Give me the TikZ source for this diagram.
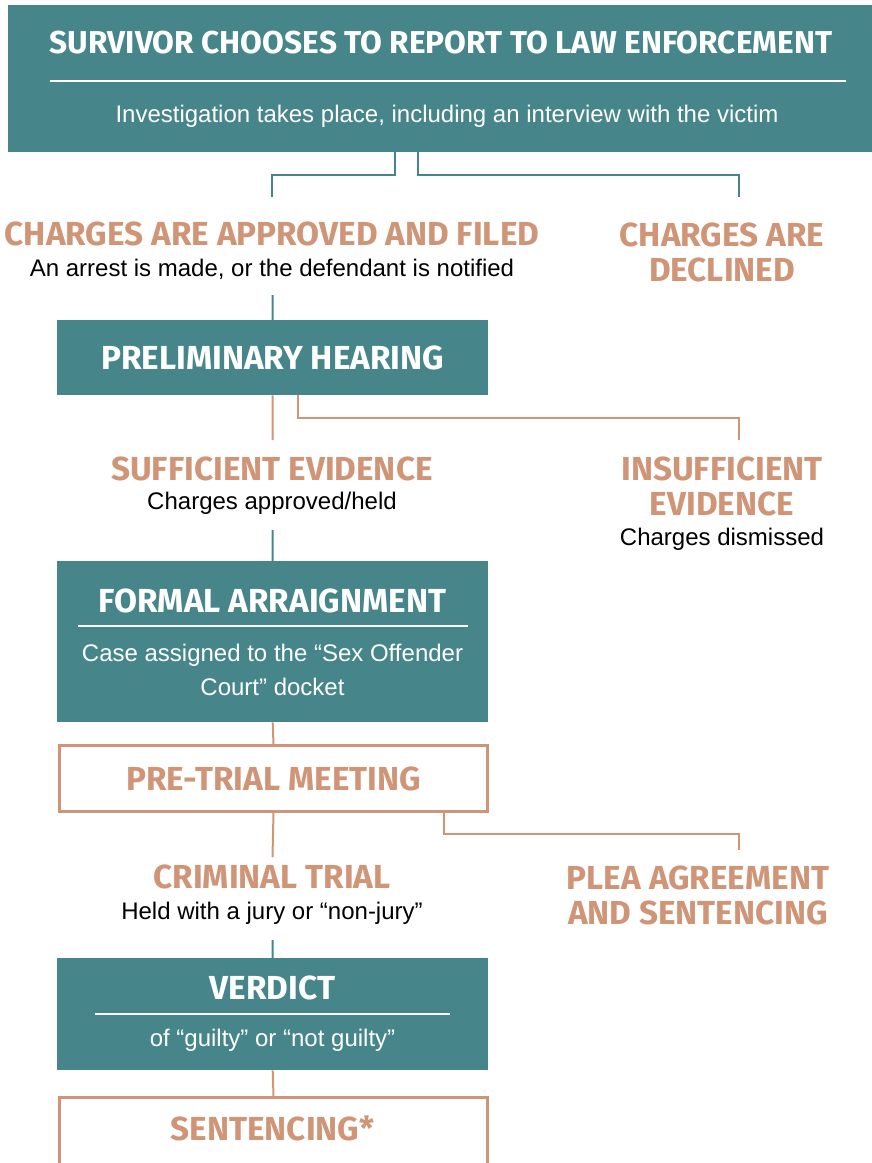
\documentclass[tikz,border=0pt]{standalone}
\usepackage{fontspec}
\setmainfont{Liberation Sans}
\newfontfamily\headfont{Fira Sans}
\definecolor{tealc}{RGB}{70,134,138}
\definecolor{salm}{RGB}{208,149,119}
\begin{document}
\begin{tikzpicture}[x=1pt,y=-1pt,
  tealbox/.style={rectangle, fill=tealc, draw=none, inner sep=0pt, anchor=north west},
  outbox/.style={rectangle, draw=salm, line width=2.5pt, inner sep=0pt, anchor=north west, minimum width=428pt},
  headtxt/.style={font=\headfont\bfseries\fontsize{33.3}{35}\selectfont, inner sep=0pt, align=center},
  bodytxt/.style={font=\fontsize{24}{34}\selectfont, inner sep=0pt, align=center},
  tline/.style={draw=tealc, line width=2pt},
  sline/.style={draw=salm, line width=2pt},
  rulel/.style={draw=white, line width=2.5pt}]
\useasboundingbox (0,0) rectangle (872,1163);

% --- report box ---
\node[tealbox, minimum width=864pt, minimum height=147pt] (top) at (8,5) {};
\node[headtxt, text=white, font=\headfont\bfseries\fontsize{31.6}{35}\selectfont] (topT) at (441,43) {SURVIVOR CHOOSES TO REPORT TO LAW ENFORCEMENT};
\draw[rulel] (50,81) -- (846,81);
\node[bodytxt, text=white] (topS) at (447,116) {Investigation takes place, including an interview with the victim};

% --- first outcomes ---
\node[headtxt, text=salm] (appr) at (272,234) {CHARGES ARE APPROVED AND FILED};
\node[bodytxt] (apprS) at (272,269) {An arrest is made, or the defendant is notified};
\node[headtxt, text=salm] (decl) at (722,252) {CHARGES ARE\\DECLINED};
\coordinate (cA) at (272,197);
\coordinate (cD) at (739,197);
\draw[tline] ([xshift=-45pt]top.south) -- ++(0,23) -| (cA);
\draw[tline] ([xshift=-22pt]top.south) -- ++(0,23) -| (cD);

% --- preliminary hearing ---
\node[tealbox, minimum width=431pt, minimum height=75pt] (prel) at (57,320) {};
\node[headtxt, text=white] (prelT) at (prel.center) {PRELIMINARY HEARING};
\coordinate (a1) at (272.5,295);
\draw[tline] (a1) -- (prel.north);

\node[headtxt, text=salm] (suf) at (272,469) {SUFFICIENT EVIDENCE};
\node[bodytxt] (sufS) at (272,503) {Charges approved/held};
\node[headtxt, text=salm] (ins) at (722,486) {INSUFFICIENT\\EVIDENCE};
\node[bodytxt] (insS) at (722,539) {Charges dismissed};
\coordinate (cS) at (272.5,440);
\coordinate (cI) at (739,440);
\draw[sline] (prel.south) -- (cS);
\draw[sline] ([xshift=25pt]prel.south) -- ++(0,23) -| (cI);

% --- formal arraignment ---
\node[tealbox, minimum width=431pt, minimum height=161pt] (form) at (57,561) {};
\node[headtxt, text=white] (formT) at (272.5,601) {FORMAL ARRAIGNMENT};
\draw[rulel] (78,626) -- (468,626);
\node[bodytxt, text=white] (formS) at (272.5,670) {Case assigned to the “Sex Offender\\Court” docket};
\coordinate (a2) at (272.5,530);
\draw[tline] (a2) -- (form.north);

% --- pre-trial meeting ---
\node[outbox, minimum height=66pt] (pret) at (58.25,744.25) {};
\node[headtxt, text=salm] (pretT) at (pret.center) {PRE-TRIAL MEETING};
\draw[sline] (form.south) -- (pret.north);

\node[headtxt, text=salm] (trial) at (272,877) {CRIMINAL TRIAL};
\node[bodytxt] (trialS) at (272,913) {Held with a jury or “non-jury”};
\node[headtxt, text=salm] (plea) at (698,895) {PLEA AGREEMENT\\AND SENTENCING};
\coordinate (cT) at (272.5,857);
\coordinate (cP) at (739,850);
\draw[sline] (pret.south) -- (cT);
\draw[sline] ([xshift=170pt]pret.south) -- ++(0,21) -| (cP);

% --- verdict ---
\node[tealbox, minimum width=431pt, minimum height=112pt] (verd) at (57,958) {};
\node[headtxt, text=white] (verdT) at (272.5,988) {VERDICT};
\draw[rulel] (95,1014) -- (450,1014);
\node[bodytxt, text=white] (verdS) at (272.5,1040) {of “guilty” or “not guilty”};
\coordinate (a3) at (272.5,940);
\draw[tline] (a3) -- (verd.north);

% --- sentencing (box runs off the lower edge) ---
\node[outbox, minimum height=100pt] (sent) at (58.25,1096.25) {};
\node[headtxt, text=salm] (sentT) at (272.5,1128) {SENTENCING*};
\draw[sline] (verd.south) -- (sent.north);
\end{tikzpicture}
\end{document}
